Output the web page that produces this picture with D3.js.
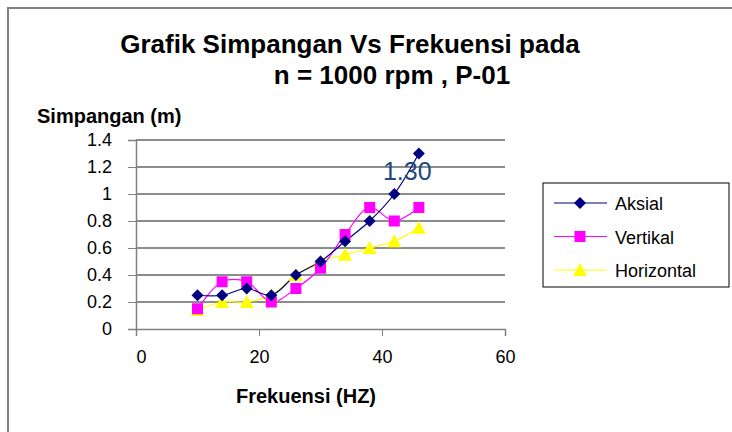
<!DOCTYPE html>
<html>
<head>
<meta charset="utf-8">
<script src="https://cdn.jsdelivr.net/npm/d3@7"></script>
<style>
  body { margin: 0; background: #fff; }
  text { font-family: "Liberation Sans", Arial, sans-serif; }
</style>
</head>
<body>
<div class="chart"></div>
<script>
const freq = [10, 14, 18, 22, 26, 30, 34, 38, 42, 46];
const aksial = [0.25, 0.25, 0.30, 0.25, 0.40, 0.50, 0.65, 0.80, 1.00, 1.30];
const vertikal = [0.15, 0.35, 0.35, 0.20, 0.30, 0.45, 0.70, 0.90, 0.80, 0.90];
const horizontal = [0.14, 0.20, 0.20, 0.25, 0.40, 0.50, 0.55, 0.60, 0.65, 0.75];
const yTicks = [0, 0.2, 0.4, 0.6, 0.8, 1, 1.2, 1.4];
const xTicks = [0, 20, 40, 60];

// marker shapes
const diamond = 'M0,-6L6,0L0,6L-6,0Z';
const square = 'M-5.5,-5.5H5.5V5.5H-5.5Z';
const triangle = 'M0,-7L7,6H-7Z';

const series = [
  { name: 'Aksial', values: aksial, color: '#000080', shape: diamond },
  { name: 'Vertikal', values: vertikal, color: '#ff00ff', shape: square },
  { name: 'Horizontal', values: horizontal, color: '#ffff00', shape: triangle }
];

const svg = d3.select('.chart').append('svg')
  .attr('width', 732).attr('height', 432);

// outer frame
svg.append('path')
  .attr('d', 'M8,440 L8,8 L740,8')
  .attr('fill', 'none').attr('stroke', '#808080').attr('stroke-width', 2);

const margin = { top: 140, left: 136 },
  width = 369, height = 189;

const x = d3.scaleLinear().domain([0, 60]).range([0, width]);
const y = d3.scaleLinear().domain([0, 1.4]).range([height, 0]);

const g = svg.append('g')
  .attr('transform', 'translate(' + margin.left + ',' + margin.top + ')');

// gridlines
g.append('g')
  .selectAll('line')
  .data(yTicks.slice(1))
  .enter().append('line')
  .attr('x1', 0).attr('x2', width)
  .attr('y1', d => y(d)).attr('y2', d => y(d))
  .attr('stroke', '#1a1a1a').attr('stroke-width', 1.2);

const yAxis = g.append('g')
  .call(d3.axisLeft(y).tickValues(yTicks).tickSize(8).tickPadding(18)
    .tickFormat(d => d3.format('')(+d.toFixed(1))));
const xAxis = g.append('g')
  .attr('transform', 'translate(0,' + height + ')')
  .call(d3.axisBottom(x).tickValues(xTicks).tickSize(7).tickPadding(14));

[yAxis, xAxis].forEach(a => {
  a.select('.domain').attr('stroke', '#808080').attr('stroke-width', 1.5);
  a.selectAll('.tick line').attr('stroke', '#808080');
  a.selectAll('.tick text').attr('font-size', 18).attr('fill', '#000')
    .attr('font-family', '"Liberation Sans", Arial, sans-serif');
});
yAxis.selectAll('.tick text').attr('dx', 2);
xAxis.selectAll('.tick text').filter(d => d === 0).attr('dx', 5);

const line = d3.line()
  .x((d, i) => x(freq[i]))
  .y(d => y(d))
  .curve(d3.curveCatmullRom.alpha(0.5));

series.slice().reverse().forEach(s => {
  g.append('path')
    .datum(s.values)
    .attr('fill', 'none')
    .attr('stroke', s.color)
    .attr('stroke-width', 1.2)
    .attr('d', line);
});
series.slice().reverse().forEach(s => {
  g.selectAll(null)
    .data(s.values)
    .enter().append('path')
    .attr('d', s.shape)
    .attr('transform', (d, i) => 'translate(' + x(freq[i]) + ',' + y(d) + ')')
    .attr('fill', s.color);
});

// data label
g.append('text')
  .attr('x', x(freq[9]) - 36).attr('y', y(aksial[9]) + 26)
  .attr('font-family', '"Open Sans", sans-serif')
  .attr('font-size', 25).attr('fill', '#1f497d')
  .text(aksial[9].toFixed(2));

// titles
svg.append('text').attr('x', 350).attr('y', 53).attr('text-anchor', 'middle')
  .attr('font-size', 26).attr('font-weight', 'bold')
  .text('Grafik Simpangan Vs Frekuensi pada');
svg.append('text').attr('x', 392).attr('y', 84).attr('text-anchor', 'middle')
  .attr('font-size', 26).attr('font-weight', 'bold')
  .text('n = 1000 rpm , P-01');
svg.append('text').attr('x', 37).attr('y', 123)
  .attr('font-size', 20).attr('font-weight', 'bold')
  .text('Simpangan (m)');
svg.append('text').attr('x', 306).attr('y', 403).attr('text-anchor', 'middle')
  .attr('font-size', 20).attr('font-weight', 'bold')
  .text('Frekuensi (HZ)');

// legend
const lg = svg.append('g').attr('transform', 'translate(543,183)');
lg.append('rect').attr('width', 186).attr('height', 104)
  .attr('fill', '#fff').attr('stroke', '#000').attr('stroke-width', 1);
series.forEach((s, i) => {
  const row = lg.append('g').attr('transform', 'translate(0,' + (20 + i * 33.5) + ')');
  row.append('line').attr('x1', 11).attr('x2', 64)
    .attr('stroke', s.color).attr('stroke-width', 1.2);
  row.append('path').attr('d', s.shape)
    .attr('transform', 'translate(37,0)').attr('fill', s.color);
  row.append('text').attr('x', 72).attr('y', 7)
    .attr('font-size', 18).text(s.name);
});
</script>
</body>
</html>
